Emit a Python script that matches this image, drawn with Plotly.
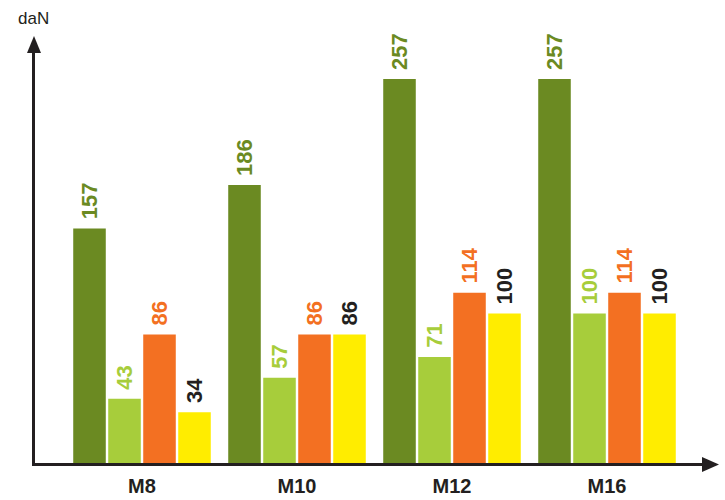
import plotly.graph_objects as go

categories = ["M8", "M10", "M12", "M16"]
series_a = [157, 186, 257, 257]
series_b = [43, 57, 71, 100]
series_c = [86, 86, 114, 114]
series_d = [34, 86, 100, 100]

bar_colors = ["#6B8A22", "#A7CD3B", "#F37022", "#FFED00"]
label_colors = ["#6B8A22", "#A7CD3B", "#F37022", "#231F20"]
INK = "#231F20"

W, H = 725, 500
L, R, T, B = 35, 705, 44, 463
px_per_unit = (463 - 79) / 257.0
cat_px = 155.0
cat0_px = 142.0

fig = go.Figure()
for vals, bc, lc in zip([series_a, series_b, series_c, series_d], bar_colors, label_colors):
    fig.add_trace(go.Bar(
        x=categories, y=vals,
        marker=dict(color=bc, line=dict(width=0)),
        text=["\u00a0" + str(v) for v in vals],
        textposition="outside", textangle=-90,
        constraintext="none", cliponaxis=False,
        outsidetextfont=dict(family="Liberation Sans, Arial, sans-serif", size=22, color=lc, weight="bold"),
        hoverinfo="skip", showlegend=False,
    ))

def pxx(p):
    return (p - L) / (R - L)

def pxy(p):
    return (B - p) / (B - T)

shapes = [
    dict(type="path", xref="paper", yref="paper",
         path=f"M {pxx(34)} {pxy(36)} L {pxx(27)} {pxy(53)} L {pxx(41)} {pxy(53)} Z",
         fillcolor=INK, line=dict(width=0)),
    dict(type="path", xref="paper", yref="paper",
         path=f"M {pxx(719)} {pxy(464.5)} L {pxx(702)} {pxy(457)} L {pxx(702)} {pxy(472)} Z",
         fillcolor=INK, line=dict(width=0)),
]

fig.update_layout(
    width=W, height=H,
    margin=dict(l=L, r=W - R, t=T, b=H - B, pad=0, autoexpand=False),
    paper_bgcolor="white", plot_bgcolor="white",
    barmode="group", bargap=15 / 155, bargroupgap=0.07,
    shapes=shapes,
    annotations=[dict(text="daN", xref="paper", yref="paper", x=pxx(16), y=pxy(19),
                      xanchor="left", yanchor="middle", showarrow=False,
                      font=dict(family="Liberation Sans, Arial, sans-serif", size=17, color=INK))],
    xaxis=dict(
        range=[(L - cat0_px) / cat_px, (R - cat0_px) / cat_px],
        showline=True, linewidth=3, linecolor=INK, showgrid=False, zeroline=False,
        ticks="", automargin=False, ticklabelstandoff=3,
        tickfont=dict(family="Liberation Sans, Arial, sans-serif", size=20, color=INK, weight="bold"),
        fixedrange=True,
    ),
    yaxis=dict(
        range=[0, (B - T) / px_per_unit],
        showline=True, linewidth=3, linecolor=INK, showgrid=False, zeroline=False,
        showticklabels=False, ticks="", automargin=False, fixedrange=True,
    ),
)

fig.write_html("out.html")
